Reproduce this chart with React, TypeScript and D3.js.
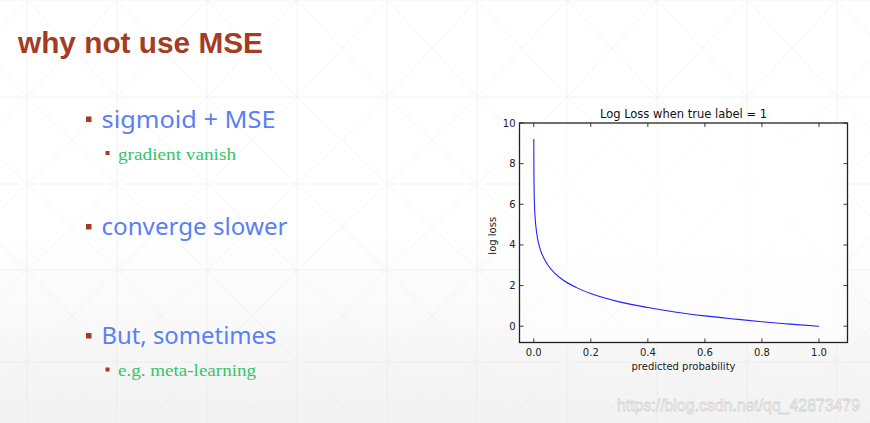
import React from "react";
import * as d3 from "d3";

const W = 870;
const H = 423;

// Slide texts
const titleText = "why not use MSE";
const level1Items = ["sigmoid + MSE", "converge slower", "But, sometimes"];
const level2Items = ["gradient vanish", "e.g. meta-learning"];
const watermark = "https://blog.csdn.net/qq_42873479";

// Chart texts and ticks
const chartTitle = "Log Loss when true label = 1";
const xLabel = "predicted probability";
const yLabel = "log loss";
const xTicks = [0.0, 0.2, 0.4, 0.6, 0.8, 1.0];
const yTicks = [0, 2, 4, 6, 8, 10];

// Curve samples
const probs = [0.0001, 0.0005, 0.001, 0.003, 0.005, 0.01, 0.02, 0.03, 0.05, 0.075, 0.1, 0.15, 0.2, 0.3, 0.4, 0.5, 0.6, 0.7, 0.8, 0.9, 1.0];
const losses = [9.21, 7.6, 6.91, 5.81, 5.3, 4.61, 3.91, 3.51, 3.0, 2.59, 2.3, 1.9, 1.61, 1.2, 0.92, 0.69, 0.51, 0.36, 0.22, 0.105, 0.0];

// Layout (not data)
const plot = { left: 519.5, right: 847.5, top: 123, bottom: 342.5 };
const l1Y = [127.5, 235, 344];
const l1W = [174, 186, 175];
const l2Y = [159.5, 376];
const l2W = [118, 138];

const TITLE_COLOR = "#a33c22";
const BLUE = "#5a80f2";
const GREEN = "#35c46a";

function Background() {
  const cols = d3.range(-63, W + 90, 90);
  const rows = [0, 97, 184, 270, 362, 452];
  const lines: JSX.Element[] = [];
  cols.forEach((x, i) => {
    lines.push(<line key={"v" + i} x1={x} x2={x} y1={0} y2={H} />);
  });
  rows.forEach((y, j) => {
    lines.push(<line key={"h" + j} x1={0} x2={W} y1={y} y2={y} />);
    if (j < rows.length - 1) {
      const y2 = rows[j + 1];
      cols.forEach((x, i) => {
        lines.push(<line key={`d1-${i}-${j}`} x1={x} y1={y} x2={x + 90} y2={y2} />);
        lines.push(<line key={`d2-${i}-${j}`} x1={x + 90} y1={y} x2={x} y2={y2} />);
      });
    }
  });
  return (
    <g>
      <defs>
        <linearGradient id="bg" x1="0" y1="0" x2="0" y2="1">
          <stop offset="0" stopColor="#ffffff" />
          <stop offset="0.55" stopColor="#ffffff" />
          <stop offset="1" stopColor="#f2f2f2" />
        </linearGradient>
      </defs>
      <rect x={0} y={0} width={W} height={H} fill="url(#bg)" />
      <g stroke="#e6e6e6" strokeWidth={0.8} opacity={0.5}>{lines}</g>
    </g>
  );
}

function Chart() {
  const x = d3.scaleLinear().domain([-0.05, 1.1]).range([plot.left, plot.right]);
  const y = d3.scaleLinear().domain([-0.8, 10]).range([plot.bottom, plot.top]);
  const pts: [number, number][] = probs.map((p, i) => [p, losses[i]]);
  const line = d3
    .line<[number, number]>()
    .x((d) => x(d[0]))
    .y((d) => y(d[1]))
    .curve(d3.curveMonotoneX);
  const tl = 4;
  const font = "DejaVu Sans, sans-serif";
  return (
    <g fontFamily={font}>
      <rect x={plot.left} y={plot.top} width={plot.right - plot.left} height={plot.bottom - plot.top} fill="#ffffff" fillOpacity={0.6} />
      <path d={line(pts) || ""} fill="none" stroke="#2020ff" strokeWidth={1.1} />
      <g stroke="#222" strokeWidth={0.9}>
        {xTicks.map((t) => (
          <g key={"xt" + t}>
            <line x1={x(t)} x2={x(t)} y1={plot.bottom} y2={plot.bottom - tl} />
            <line x1={x(t)} x2={x(t)} y1={plot.top} y2={plot.top + tl} />
          </g>
        ))}
        {yTicks.map((t) => (
          <g key={"yt" + t}>
            <line x1={plot.left} x2={plot.left + tl} y1={y(t)} y2={y(t)} />
            <line x1={plot.right} x2={plot.right - tl} y1={y(t)} y2={y(t)} />
          </g>
        ))}
      </g>
      <rect x={plot.left} y={plot.top} width={plot.right - plot.left} height={plot.bottom - plot.top} fill="none" stroke="#222" strokeWidth={1.3} />
      {xTicks.map((t) => (
        <text key={"xl" + t} x={x(t)} y={plot.bottom + 13} textAnchor="middle" fontSize={10} fill="#222">
          {t.toFixed(1)}
        </text>
      ))}
      {yTicks.map((t) => (
        <text key={"yl" + t} x={plot.left - 4} y={y(t) + 3.5} textAnchor="end" fontSize={10} fill="#222">
          {t}
        </text>
      ))}
      <text x={(plot.left + plot.right) / 2} y={plot.top - 5} textAnchor="middle" fontSize={11.5} fill="#111">
        {chartTitle}
      </text>
      <text x={x(0.525)} y={plot.bottom + 27} textAnchor="middle" fontSize={10} fill="#222">
        {xLabel}
      </text>
      <text transform={`translate(${plot.left - 24},${(plot.top + plot.bottom) / 2 + 3}) rotate(-90)`} textAnchor="middle" fontSize={10} fill="#222">
        {yLabel}
      </text>
    </g>
  );
}

export default function App() {
  return (
    <div style={{ position: "fixed", left: 0, top: 0, width: W, height: H }}>
      <svg width={W} height={H} style={{ display: "block" }}>
        <Background />
        <text x={18} y={53} fontFamily="Liberation Sans, Arial, sans-serif" fontWeight="bold" fontSize={29.5} fill={TITLE_COLOR} textLength={245} lengthAdjust="spacingAndGlyphs">
          {titleText}
        </text>
        {level1Items.map((t, i) => (
          <g key={"l1" + i}>
            <rect x={86} y={l1Y[i] - 11} width={5.5} height={5.5} fill={TITLE_COLOR} />
            <text x={101.5} y={l1Y[i]} fontFamily="Noto Sans, Open Sans, sans-serif" fontSize={24} fill={BLUE} textLength={l1W[i]} lengthAdjust="spacingAndGlyphs">
              {t}
            </text>
          </g>
        ))}
        {level2Items.map((t, i) => (
          <g key={"l2" + i}>
            <rect x={105.5} y={l2Y[i] - 8.5} width={4} height={4} fill={TITLE_COLOR} />
            <text x={118} y={l2Y[i]} fontFamily="Liberation Serif, DejaVu Serif, serif" fontSize={17.5} fill={GREEN} textLength={l2W[i]} lengthAdjust="spacingAndGlyphs">
              {t}
            </text>
          </g>
        ))}
        <Chart />
        <text x={617} y={411} fontFamily="Liberation Sans, Arial, sans-serif" fontSize={16.5} fill="#ffffff" stroke="#d4d4d4" strokeWidth={0.8} textLength={243} lengthAdjust="spacingAndGlyphs">
          {watermark}
        </text>
      </svg>
    </div>
  );
}
